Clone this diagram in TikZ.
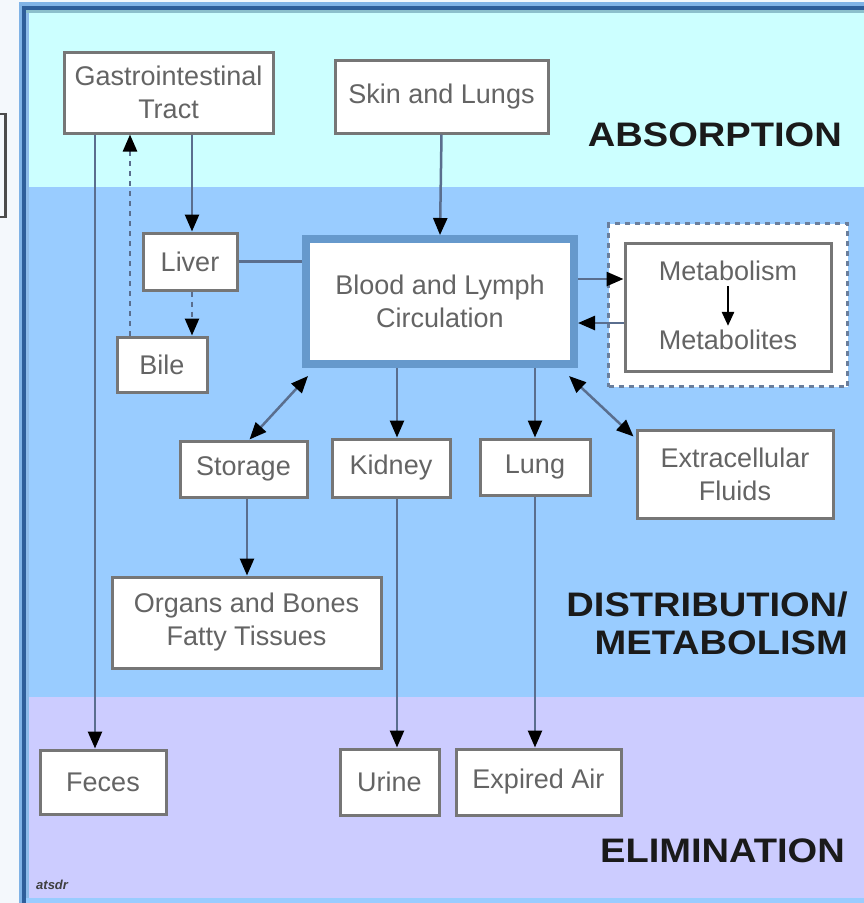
\documentclass[tikz,border=0pt]{standalone}
\usepackage{fontspec}
\setmainfont{Liberation Sans}
\newfontfamily\phasefont[FakeStretch=1.12]{Liberation Sans}
\usetikzlibrary{arrows.meta,calc}
\definecolor{pagebg}{HTML}{F4F8FC}
\definecolor{framelight}{HTML}{80B3E6}
\definecolor{framedark}{HTML}{2E5E9A}
\definecolor{bandcyan}{HTML}{CCFFFF}
\definecolor{bandtop}{HTML}{8CC0CC}
\definecolor{bandblue}{HTML}{99CCFF}
\definecolor{bandlav}{HTML}{CCCCFF}
\definecolor{boxline}{HTML}{767676}
\definecolor{boxtext}{HTML}{646464}
\definecolor{conn}{HTML}{5A6E8E}
\definecolor{bloodline}{HTML}{6699CC}
\definecolor{dashline}{HTML}{6A7E9C}
\definecolor{labeltext}{HTML}{1A1A1A}
\tikzset{
  organ/.style={draw=boxline, line width=3pt, fill=white, align=center,
    text=boxtext, font=\fontsize{27}{33}\selectfont, inner sep=0pt},
  plain/.style={align=center, text=boxtext, font=\fontsize{27}{33}\selectfont, inner sep=2pt},
  phase/.style={anchor=east, text=labeltext, font=\phasefont\bfseries\fontsize{34}{38}\selectfont, inner sep=0pt},
  arr/.style={draw=conn, line width=2.5pt, -{Triangle[length=17pt,width=14pt,color=black]}},
  dbl/.style={draw=conn, line width=2.5pt, {Triangle[length=17pt,width=14pt,color=black]}-{Triangle[length=17pt,width=14pt,color=black]}},
  link/.style={draw=conn, line width=2.5pt},
  dsh/.style={dash pattern=on 5pt off 5pt}
}
\begin{document}
\begin{tikzpicture}[x=1pt,y=-1pt]
\useasboundingbox (0,0) rectangle (864,903);
% page background and clipped neighbour box
\fill[pagebg] (0,0) rectangle (864,903);
\draw[line width=2.5pt, draw=black!70] (0,114) -- (5.5,114) -- (5.5,217) -- (0,217);
% frame
\fill[framelight] (19,2) rectangle (864,903);
\fill[framedark] (22,6) rectangle (864,903);
\fill[bandcyan] (26,10) rectangle (864,187);
\fill[bandtop] (26,10) rectangle (864,13);
\fill[bandblue] (26,187) rectangle (864,697);
\fill[bandlav] (26,697) rectangle (864,898);
\fill[bandblue] (26,898) rectangle (864,903);
\fill[framelight!90!white] (26,13) rectangle (29,898);

% nodes
\node[organ, minimum width=209pt, minimum height=81pt] (gi) at (168.5,92.5) {Gastrointestinal\\Tract};
\node[organ, minimum width=213pt, minimum height=73pt] (skin) at (441.5,96.5) {Skin and Lungs};
\node[organ, minimum width=94pt, minimum height=57pt] (liver) at (190,261.5) {Liver};
\node[organ, minimum width=90pt, minimum height=55pt] (bile) at (162,364.5) {Bile};
\node[organ, draw=bloodline, line width=8pt, minimum width=268pt, minimum height=125pt] (blood) at (440,301.5) {Blood and Lymph\\Circulation};
\node[draw=dashline, line width=3pt, dsh, fill=white, minimum width=239pt, minimum height=163pt, inner sep=0pt] (metout) at (728,305) {};
\node[organ, minimum width=206pt, minimum height=128pt] (metin) at (728,307) {};
\node[plain] (mt1) at (728,271) {Metabolism};
\node[plain] (mt2) at (728,340) {Metabolites};
\node[organ, minimum width=127pt, minimum height=56pt] (storage) at (243.5,469) {Storage};
\node[organ, minimum width=118pt, minimum height=58pt] (kidney) at (391,468) {Kidney};
\node[organ, minimum width=110pt, minimum height=56pt] (lung) at (535,467) {Lung};
\node[organ, minimum width=196pt, minimum height=88pt] (extra) at (735,474) {Extracellular\\Fluids};
\node[organ, minimum width=269pt, minimum height=91pt] (organs) at (246.5,622.5) {Organs and Bones\\Fatty Tissues};
\node[organ, minimum width=126pt, minimum height=64pt] (feces) at (103,782) {Feces};
\node[organ, minimum width=99pt, minimum height=66pt] (urine) at (389.5,782) {Urine};
\node[organ, minimum width=165pt, minimum height=66pt] (expired) at (538.5,782) {Expired Air};

% phase labels
\node[phase] (abs) at (842,135) {ABSORPTION};
\node[phase] (dist) at (848,605) {DISTRIBUTION/};
\node[phase] (metab) at (848,643) {METABOLISM};
\node[phase] (elim) at (845,851) {ELIMINATION};
\node[anchor=west, text=black!75, font=\bfseries\itshape\fontsize{13}{13}\selectfont, inner sep=0pt] (logo) at (36,885) {atsdr};

% connectors
\draw[arr] (gi.south -| 95,0) -- (feces.north -| 95,0);
\draw[arr, dsh] (bile.north -| 130,0) -- (gi.south -| 130,0);
\draw[arr] (gi.south -| 192,0) -- (liver.north -| 192,0);
\draw[arr, dsh] (liver.south -| 192,0) -- (bile.north -| 192,0);
\draw[link] (liver.east) -- (liver.east -| blood.west);
\draw[arr] (skin.south) -- (blood.north);
\draw[arr] (blood.east |- 0,279) -- (metin.west |- 0,279);
\draw[arr] (metin.west |- 0,323) -- (blood.east |- 0,323);
\draw[draw=black, line width=2.5pt, -{Triangle[length=14pt,width=12pt,color=black]}, shorten <=3pt, shorten >=2pt] (mt1) -- (mt2);
\draw[arr] (blood.south -| 397,0) -- (kidney.north -| 397,0);
\draw[arr] (blood.south -| lung.north) -- (lung.north);
\draw[dbl] ($(blood.south west)+(6,8)$) -- ($(storage.north)+(6,0)$);
\draw[dbl] ($(blood.south east)+(-9,8)$) -- ($(extra.north west)+(-2,8)$);
\draw[arr] (storage.south -| 247,0) -- (organs.north -| 247,0);
\draw[arr] (kidney.south -| 397,0) -- (urine.north -| 397,0);
\draw[arr] (lung.south) -- (expired.north -| lung.south);
\end{tikzpicture}
\end{document}
